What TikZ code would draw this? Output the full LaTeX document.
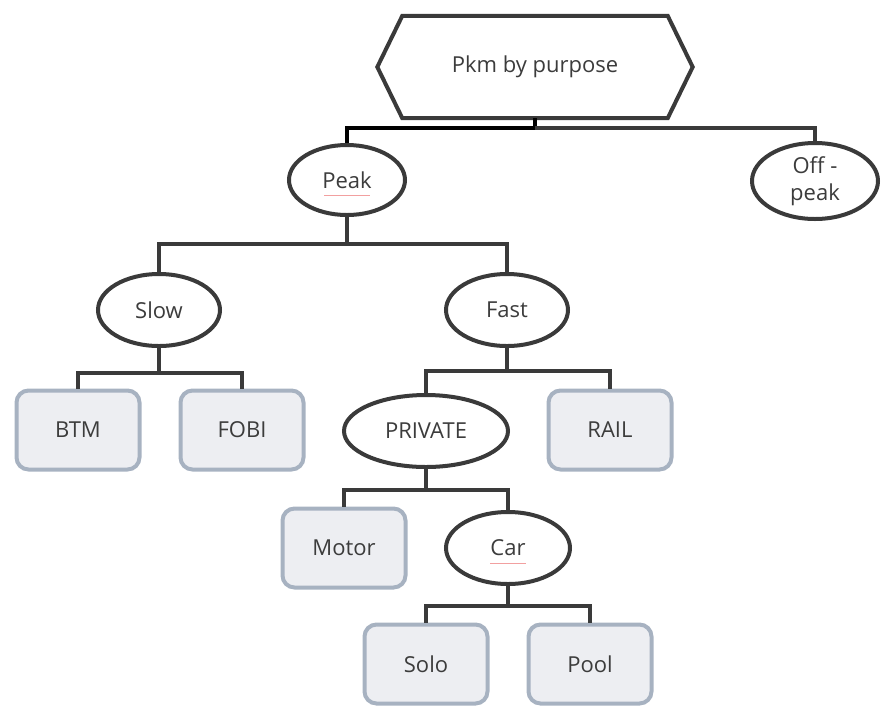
\documentclass[tikz,border=0pt]{standalone}
\usepackage{fontspec}
\setmainfont{Open Sans}
\usetikzlibrary{shapes.geometric}
\definecolor{ink}{HTML}{3A3A3A}
\definecolor{txt}{HTML}{3C3C3C}
\definecolor{boxedge}{HTML}{A7B2C1}
\definecolor{boxfill}{HTML}{EDEEF2}
\definecolor{spell}{HTML}{F2A0A0}
\tikzset{
  lbl/.style={font=\fontsize{22}{27}\selectfont, text=txt},
  oval/.style={ellipse, draw=ink, line width=4pt, fill=white, inner sep=0pt,
    lbl, align=center},
  leaf/.style={rectangle, rounded corners=12pt, draw=boxedge, fill=boxfill,
    line width=4pt, minimum width=123pt, minimum height=79pt, inner sep=0pt, lbl},
  conn/.style={draw=ink, line width=4pt},
}
\begin{document}
\begin{tikzpicture}[x=1pt,y=-1pt]
\useasboundingbox (0,0) rectangle (881,705);

% root hexagon
\node[minimum width=315pt, minimum height=102pt, inner sep=0pt, lbl] (top) at (535,67) {Pkm by purpose};
\draw[ink, line width=4pt, line join=miter]
  (top.west) -- ([xshift=25pt]top.north west) -- ([xshift=-25pt]top.north east)
  -- (top.east) -- ([xshift=-25pt]top.south east) -- ([xshift=25pt]top.south west) -- cycle;

% level 1
\node[oval, minimum width=116pt, minimum height=70pt] (peak) at (347,180) {Peak};
\node[oval, minimum width=126pt, minimum height=76pt] (off) at (815,181) {Off -\\peak};

% level 2
\node[oval, minimum width=122pt, minimum height=72pt] (slow) at (159,310) {Slow};
\node[oval, minimum width=122pt, minimum height=72pt] (fast) at (507,310) {Fast};

% level 3
\node[leaf] (btm) at (78,430) {BTM};
\node[leaf] (fobi) at (242,430) {FOBI};
\node[oval, minimum width=164pt, minimum height=72pt] (private) at (426,431) {PRIVATE};
\node[leaf] (rail) at (610,430) {RAIL};

% level 4
\node[leaf] (motor) at (344,548) {Motor};
\node[oval, minimum width=124pt, minimum height=72pt] (car) at (508,548) {Car};

% level 5
\node[leaf] (solo) at (426,664) {Solo};
\node[leaf] (pool) at (590,664) {Pool};

% spell-check marks under two labels
\draw[spell, line width=1pt] ([xshift=-23pt,yshift=-15pt]peak.center) -- ++(46,0);
\draw[spell, line width=1pt] ([xshift=-18pt,yshift=-15pt]car.center) -- ++(36,0);

% connectors
\draw[black, line width=4pt] (top.south) -- ++(0,10) coordinate (tj) -| (peak.north);
\draw[conn] (tj) -| (off.north);
\draw[conn] (peak.south) -- ++(0,27) coordinate (pj);
\draw[conn] (slow.north) |- (pj) -| (fast.north);
\draw[conn] (slow.south) -- ++(0,25) coordinate (sj);
\draw[conn] (btm.north) |- (sj) -| (fobi.north);
\draw[conn] (fast.south) -- ++(0,23) coordinate (fj);
\draw[conn] (private.north) |- (fj) -| (rail.north);
\draw[conn] (private.south) -- ++(0,21) coordinate (vj);
\draw[conn] (motor.north) |- (vj) -| (car.north);
\draw[conn] (car.south) -- ++(0,20) coordinate (cj);
\draw[conn] (solo.north) |- (cj) -| (pool.north);
\end{tikzpicture}
\end{document}
